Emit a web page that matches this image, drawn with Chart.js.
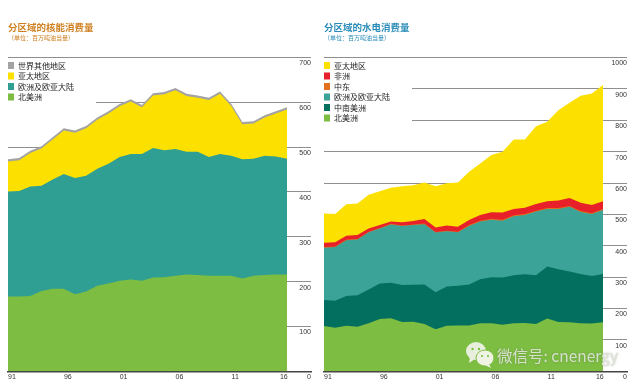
<!DOCTYPE html>
<html>
<head>
<meta charset="utf-8">
<title>分区域的核能和水电消费量</title>
<script src="https://cdn.jsdelivr.net/npm/chart.js@4/dist/chart.umd.min.js"></script>
<style>
    html, body { margin: 0; padding: 0; background: #fff; }
    #page { position: relative; width: 643px; height: 390px; overflow: hidden; }
    canvas { position: absolute; top: 0; }
    #chartNuclear { left: 0; }
    #chartHydro { left: 318px; }
    #mark { position: absolute; left: 497px; top: 345px; font: 15.5px "Noto Sans CJK SC", sans-serif; line-height: 20px; color: rgba(222, 230, 212, 0.92); text-shadow: 0 0 2px rgba(90, 90, 90, 0.4); white-space: nowrap; }
    #markLogo { position: absolute; left: 464px; top: 341px; }
</style>
</head>
<body>
<div id="page">
    <canvas id="chartNuclear" width="318" height="390"></canvas>
    <canvas id="chartHydro" width="325" height="390"></canvas>
    <svg id="markLogo" width="32" height="28" viewBox="0 0 32 28">
        <ellipse cx="12" cy="10" rx="10" ry="9" fill="#e8efdc"/>
        <path d="M6 16 L5 22 L11 18 Z" fill="#e8efdc"/>
        <ellipse cx="21" cy="17" rx="9" ry="8" fill="#eef3e4" stroke="#7ebf41"/>
        <path d="M25 23 L27 27 L21 24 Z" fill="#eef3e4"/>
        <circle cx="8.5" cy="8" r="1.2" fill="#7ebf41"/>
        <circle cx="15" cy="8" r="1.2" fill="#7ebf41"/>
        <circle cx="18" cy="15" r="1.1" fill="#7ebf41"/>
        <circle cx="24" cy="15" r="1.1" fill="#7ebf41"/>
    </svg>
    <div id="mark">微信号: cnenergy</div>
</div>
<script>
const years = [1991, 1992, 1993, 1994, 1995, 1996, 1997, 1998, 1999, 2000, 2001, 2002, 2003, 2004, 2005, 2006, 2007, 2008, 2009, 2010, 2011, 2012, 2013, 2014, 2015, 2016];
const yearLabels = ["91", "96", "01", "06", "11", "16"];

// 核能 (million tonnes oil equivalent)
const nuclearNorthAmerica = [167, 167, 168, 179, 184, 184, 172, 178, 191, 196, 202, 205, 202, 209, 210, 213, 216, 215, 213, 213, 213, 207, 213, 215, 216, 216];
const nuclearEurope = [234, 235, 244, 235, 244, 256, 259, 258, 261, 267, 276, 280, 283, 289, 283, 283, 274, 275, 265, 272, 268, 266, 261, 266, 263, 258];
const nuclearAsia = [67, 69, 75, 83, 89, 97, 101, 106, 109, 112, 113, 117, 104, 117, 125, 131, 124, 120, 127, 134, 111, 78, 79, 85, 96, 110];
const nuclearOther = [5, 5, 5, 5, 5, 5, 5, 5, 5, 5, 5, 5, 5, 5, 5, 5, 5, 5, 5, 5, 5, 5, 5, 5, 5, 5];

// 水电
const hydroNorthAmerica = [144, 139, 145, 142, 153, 167, 169, 157, 158, 151, 134, 145, 146, 146, 153, 153, 148, 153, 154, 151, 168, 157, 156, 153, 152, 156];
const hydroSouthAmerica = [83, 86, 95, 100, 108, 113, 113, 118, 118, 126, 118, 125, 127, 131, 140, 147, 151, 153, 155, 155, 166, 168, 162, 157, 152, 154];
const hydroEurope = [167, 171, 178, 178, 182, 175, 186, 188, 190, 192, 190, 176, 170, 186, 184, 183, 181, 188, 189, 203, 183, 192, 206, 198, 197, 204];
const hydroMiddleEast = [2, 2, 2, 2, 2, 2, 2, 2, 2, 2, 2, 2, 2, 3, 3, 3, 3, 3, 3, 3, 3, 3, 3, 3, 3, 3];
const hydroAfrica = [14, 13, 12, 12, 10, 9, 7, 10, 11, 14, 14, 17, 16, 16, 18, 21, 23, 20, 20, 21, 22, 24, 25, 26, 26, 25];
const hydroAsia = [93, 90, 100, 101, 108, 108, 108, 115, 114, 117, 132, 134, 141, 154, 164, 182, 194, 222, 218, 248, 253, 288, 304, 341, 355, 370];

const yTicksNuclear = [0, 100, 200, 300, 400, 500, 600, 700];
const yTicksHydro = [0, 100, 200, 300, 400, 500, 600, 700, 800, 900, 1000];

const textFont = '"Noto Sans CJK SC", sans-serif';
const numFont = '"Liberation Sans", Arial, sans-serif';

function area(label, data, color) {
    return {
        label: label,
        data: years.map((y, i) => ({ x: y, y: data[i] })),
        backgroundColor: color,
        borderColor: color,
        borderWidth: 0,
        pointRadius: 0,
        tension: 0,
        fill: true,
    };
}

// legend goes on the top left of the plot and the grid lines stop short of it
const legendMask = {
    id: "legendMask",
    beforeDraw(chart) {
        const a = chart.chartArea;
        const legend = chart.legend;
        legend.left = a.left - legend.options.labels.padding;
        legend.top = a.top + 1.5;
        legend.bottom = a.bottom;
    },
    beforeDatasetsDraw(chart, args, opts) {
        const a = chart.chartArea;
        const ctx = chart.ctx;
        ctx.save();
        ctx.fillStyle = "#fff";
        ctx.fillRect(a.left, a.top + 1, opts.width, opts.height);
        ctx.restore();
        chart.legend.draw();
    },
};

function createChart(id, datasets, title, titleColor, yMax, yTicks, paddingLeft, paddingRight, mask) {
    return new Chart(document.getElementById(id).getContext("2d"), {
        type: "line",
        data: { datasets },
        plugins: [legendMask],
        options: {
            responsive: false,
            animation: false,
            layout: { padding: { left: paddingLeft, right: paddingRight, top: 0, bottom: 0 } },
            scales: {
                x: {
                    type: "linear",
                    min: 1991,
                    max: 2018.15,
                    afterBuildTicks(axis) {
                        // last label sits left of the 2016 edge in the original
                        axis.ticks = [1991, 1996, 2001, 2006, 2011, 2015.36].map((v) => ({ value: v }));
                    },
                    afterFit(axis) { axis.height = 18.7; },
                    grid: { display: false, drawTicks: false },
                    border: { color: "#444", width: 1.6 },
                    ticks: {
                        autoSkip: false,
                        maxRotation: 0,
                        padding: 2,
                        labelOffset: 4,
                        color: "#333",
                        font: { family: numFont, size: 7 },
                        callback: (v, i) => yearLabels[i],
                    },
                },
                y: {
                    position: "right",
                    stacked: true,
                    min: 0,
                    max: yMax,
                    afterBuildTicks(axis) {
                        axis.ticks = yTicks.map((v) => ({ value: v }));
                    },
                    afterFit(axis) { axis.width = 0; },
                    grid: { color: "#8f8f8f", lineWidth: 1, drawTicks: false },
                    border: { display: false },
                    ticks: {
                        mirror: true,
                        padding: 0,
                        labelOffset: 6,
                        color: "#333",
                        font: { family: numFont, size: 7 },
                        callback: (v) => String(v),
                    },
                },
            },
            plugins: {
                tooltip: { enabled: false },
                title: {
                    display: true,
                    text: title,
                    align: "start",
                    color: titleColor,
                    font: { family: textFont, size: 9.5, weight: "bold", lineHeight: 1.2 },
                    padding: { top: 22, bottom: 1 },
                },
                subtitle: {
                    display: true,
                    text: "（单位：百万吨油当量）",
                    align: "start",
                    color: titleColor,
                    font: { family: textFont, size: 6, lineHeight: 1.2 },
                    padding: { top: 0, bottom: 15.9 },
                },
                legend: {
                    position: "chartArea",
                    align: "start",
                    reverse: true,
                    labels: {
                        boxWidth: 6,
                        boxHeight: 7,
                        padding: 2.5,
                        color: "#222",
                        font: { family: textFont, size: 8 },
                    },
                },
                legendMask: mask,
            },
        },
    });
}

createChart(
    "chartNuclear",
    [
        area("北美洲", nuclearNorthAmerica, "#7cbd42"),
        area("欧洲及欧亚大陆", nuclearEurope, "#2f9f93"),
        area("亚太地区", nuclearAsia, "#fce000"),
        area("世界其他地区", nuclearOther, "#a3a3a3"),
    ],
    "分区域的核能消费量",
    "#cf7f1f",
    700,
    yTicksNuclear,
    8,
    7,
    { width: 88, height: 46 }
);

createChart(
    "chartHydro",
    [
        area("北美洲", hydroNorthAmerica, "#7cbd42"),
        area("中南美洲", hydroSouthAmerica, "#03705f"),
        area("欧洲及欧亚大陆", hydroEurope, "#3ba397"),
        area("中东", hydroMiddleEast, "#e2711d"),
        area("非洲", hydroAfrica, "#e8202a"),
        area("亚太地区", hydroAsia, "#fce000"),
    ],
    "分区域的水电消费量",
    "#2a8cb8",
    1000,
    yTicksHydro,
    6,
    16,
    { width: 88, height: 66 }
);
</script>
</body>
</html>
